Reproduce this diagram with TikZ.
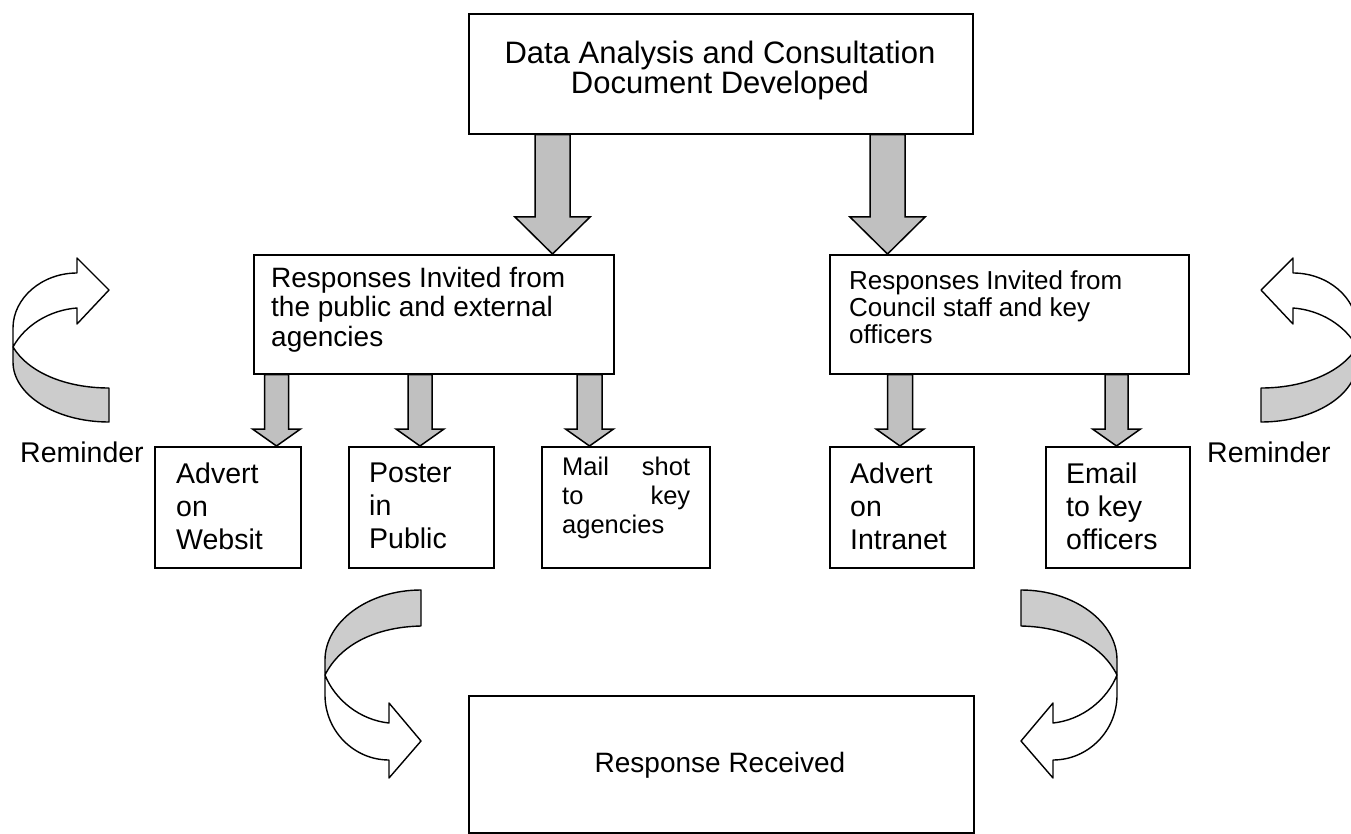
\documentclass[tikz,border=0pt]{standalone}
\usepackage{fontspec}
\setmainfont{Liberation Sans}
\usetikzlibrary{calc}
\definecolor{shaftgray}{HTML}{C0C0C0}
\definecolor{bandgray}{HTML}{CCCCCC}
% thick downward block arrow: from-node, to-node, x, half shaft, half head, head length
\newcommand\downblock[6]{%
  \draw[blockarrow] let \p1=(#1.south), \p2=(#2.north) in
    (#3pt-#4pt,\y1) -- (#3pt-#4pt,\y2+#6pt) -- (#3pt-#5pt,\y2+#6pt) -- (#3pt,\y2)
    -- (#3pt+#5pt,\y2+#6pt) -- (#3pt+#4pt,\y2+#6pt) -- (#3pt+#4pt,\y1) -- cycle;}
\begin{document}
\begin{tikzpicture}[x=1pt,y=-1pt,
  box/.style={draw, line width=1.6pt, fill=white, inner sep=0pt, anchor=north west},
  txt/.style={inner sep=0pt, anchor=north west, align=left},
  blockarrow/.style={draw, line width=1.5pt, fill=shaftgray},
  curve/.style={draw, line width=1.4pt, line join=round},
  big/.style={font=\fontsize{31}{30}\selectfont},
  norm/.style={font=\fontsize{28}{29.5}\selectfont},
  small/.style={font=\fontsize{28.5}{33}\selectfont},
  sideleft/.style={},
  sideright/.style={xshift=1370pt, xscale=-1},
  lowleft/.style={},
  lowright/.style={xshift=1442pt, xscale=-1},
]
\useasboundingbox (0,0) rectangle (1351,834);

% boxes
\node[box, minimum width=504pt, minimum height=120pt] (top) at (468,13) {};
\node[box, minimum width=360pt, minimum height=119pt] (midL) at (253,254) {};
\node[box, minimum width=359pt, minimum height=119pt] (midR) at (829,254) {};
\node[box, minimum width=146pt, minimum height=121pt] (b1) at (154,446) {};
\node[box, minimum width=145pt, minimum height=121pt] (b2) at (348,446) {};
\node[box, minimum width=168pt, minimum height=121pt] (b3) at (541,446) {};
\node[box, minimum width=144pt, minimum height=121pt] (b4) at (829,446) {};
\node[box, minimum width=144pt, minimum height=121pt] (b5) at (1045,446) {};
\node[box, minimum width=505pt, minimum height=137pt] (res) at (468,695) {};

% texts
\node[txt, big, anchor=north, align=center] (topt) at (720,41)
  {Data Analysis and Consultation\\Document Developed};
\node[txt, norm] (midLt) at (271,267) {Responses Invited from\\the public and external\\agencies};
\node[txt, font=\fontsize{26}{27}\selectfont] (midRt) at (849,270)
  {Responses Invited from\\Council staff and key\\officers};
\node[txt, small] (b1t) at (176,463) {Advert\\on\\Websit};
\node[txt, small] (b2t) at (369,463) {Poster\\in\\Public};
\node[txt, font=\fontsize{25.5}{29}\selectfont, text width=128pt] (b3t) at (562,457)
  {Mail\hfill shot\\to\hfill key\\agencies};
\node[txt, small] (b4t) at (850,463) {Advert\\on\\Intranet};
\node[txt, small] (b5t) at (1066,463) {Email\\to key\\officers};
\node[norm, inner sep=0pt, anchor=base] (rest) at (720,772) {Response Received};
\node[small, inner sep=0pt, anchor=base west] (remL) at (20,462) {Reminder};
\node[small, inner sep=0pt, anchor=base west] (remR) at (1207,462) {Reminder};

% block arrows
\downblock{top}{midL}{552.5}{17.5}{37.5}{37}
\downblock{top}{midR}{887.5}{17.5}{37.5}{37}
\downblock{midL}{b1}{276.5}{12}{24}{17}
\downblock{midL}{b2}{420}{12}{24}{17}
\downblock{midL}{b3}{589.5}{12.5}{24}{17}
\downblock{midR}{b4}{900}{12.5}{24}{17}
\downblock{midR}{b5}{1116.5}{11.5}{24}{17}

% reminder arrows at the sides
\foreach \tf in {sideleft,sideright}{
  \begin{scope}[\tf]
    \draw[curve, fill=white] (13,347) .. controls (25,325) and (50,310) .. (77,308)
      -- (77,324) -- (109,290) -- (77,258) -- (77,273)
      .. controls (42,273) and (13,298) .. (13,328) -- cycle;
    \draw[curve, fill=bandgray] (109,388) -- (109,422)
      .. controls (56,422) and (13,395) .. (13,362) -- (13,347)
      .. controls (28,372) and (65,388) .. (109,388) -- cycle;
  \end{scope}
}
% arrows turning towards the response box
\foreach \tf in {lowleft,lowright}{
  \begin{scope}[\tf]
    \draw[curve, fill=white] (325,675) .. controls (335,700) and (360,720) .. (389,723)
      -- (389,703) -- (421,741) -- (389,778) -- (389,760)
      .. controls (354,760) and (325,731) .. (325,695) -- cycle;
    \draw[curve, fill=bandgray] (421,590)
      .. controls (368,590) and (325,622) .. (325,660) -- (325,675)
      .. controls (340,645) and (375,627) .. (421,626) -- cycle;
  \end{scope}
}
\end{tikzpicture}
\end{document}
